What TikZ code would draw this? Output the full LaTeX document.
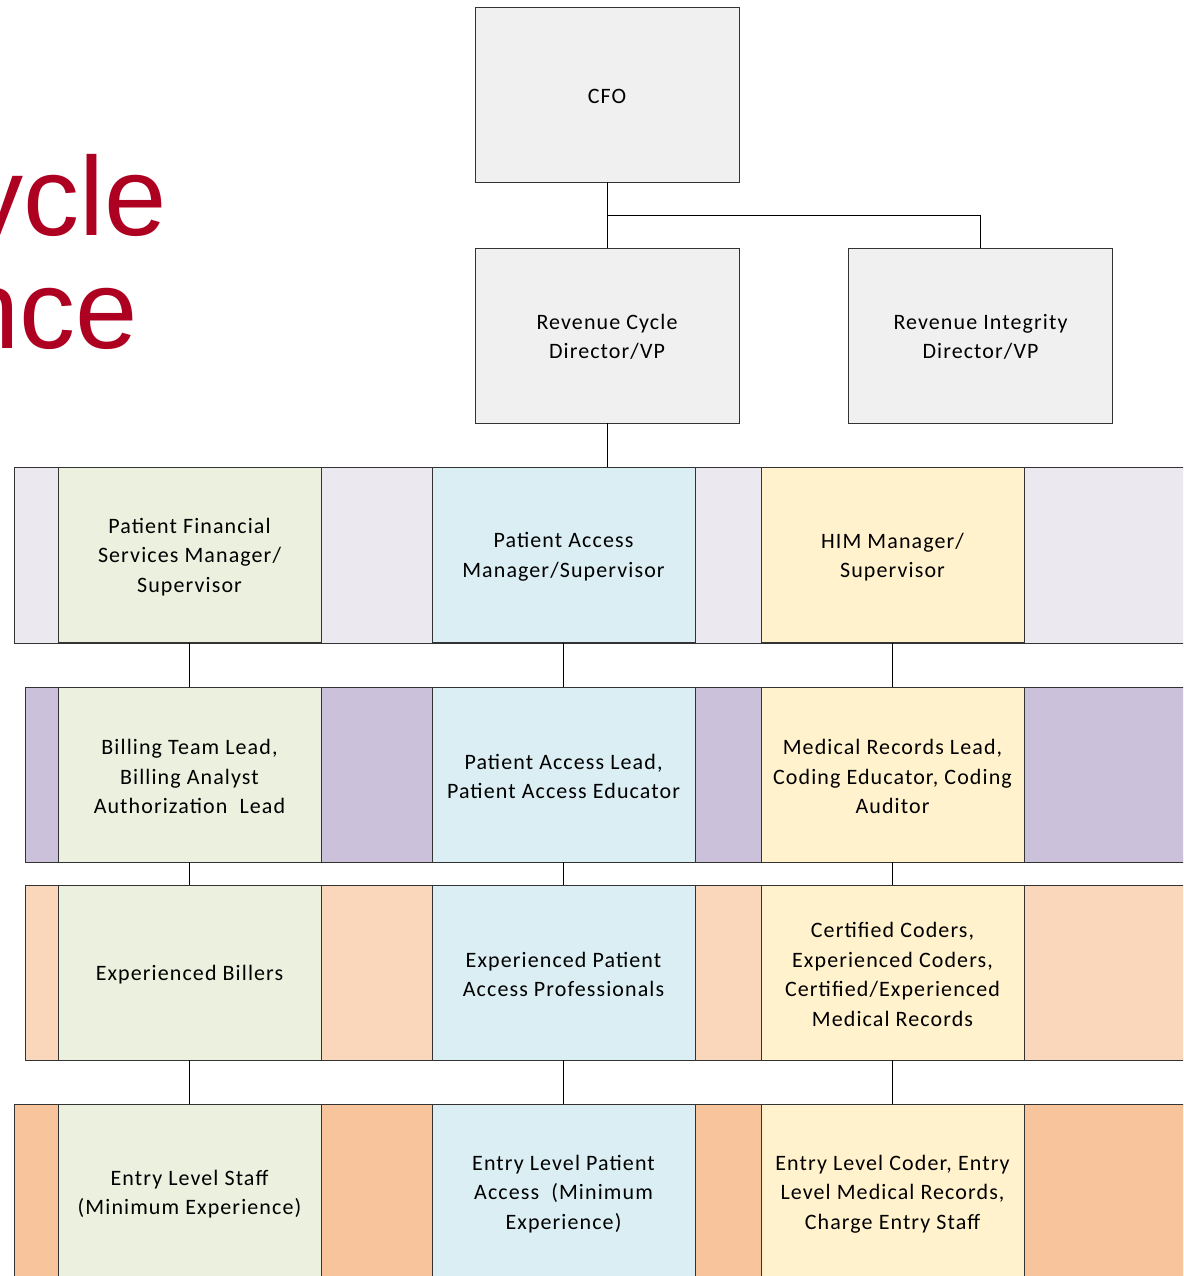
\documentclass[tikz,border=0pt]{standalone}
\usepackage{fontspec}
\setmainfont[LetterSpace=5]{Carlito}
\newfontfamily\titlefont{Liberation Sans}
\begin{document}
\begin{tikzpicture}[x=1pt,y=-1pt,
  box/.style={draw=black!80,line width=0.8pt,rectangle,inner sep=0,outer sep=0,
    minimum width=263pt,minimum height=175pt,align=center,text=black,
    font=\fontsize{22}{29.5}\selectfont},
  topbox/.style={box,fill=topgray,minimum width=264pt},
  gbox/.style={box,fill=boxgreen},
  bbox/.style={box,fill=boxblue},
  ybox/.style={box,fill=boxyellow},
  lbl/.style={align=center,font=\fontsize{22}{29.5}\selectfont,text=black},
  band/.style={draw=black!80,line width=0.8pt},
  conn/.style={draw=black,line width=1pt}]
\definecolor{topgray}{HTML}{F0F0F0}
\definecolor{boxgreen}{HTML}{EBF1DE}
\definecolor{boxblue}{HTML}{DAEEF3}
\definecolor{boxyellow}{HTML}{FFF2CC}
\definecolor{bandA}{HTML}{EBE8F0}
\definecolor{bandB}{HTML}{CCC1DA}
\definecolor{bandC}{HTML}{FAD7BB}
\definecolor{bandD}{HTML}{F8C49B}
\definecolor{titlered}{HTML}{AE0020}
\useasboundingbox (0,0) rectangle (1183,1276);
\clip (0,0) rectangle (1183,1276);
\fill[white] (0,0) rectangle (1183,1276);
% title fragments
\node[anchor=base east,inner sep=0,text=titlered,font=\titlefont\fontsize{112}{112}\selectfont] (t1) at (167,235) {ycle};
\node[anchor=base east,inner sep=0,text=titlered,font=\titlefont\fontsize{112}{112}\selectfont] (t2) at (138,348) {nce};
% top boxes
\node[topbox] (cfo) at (607,94.5) {};
\node[lbl] (cfot) at (607,96) {CFO};
\node[topbox] (rc) at (607,335.5) {};
\node[lbl] (rct) at (607,337) {Revenue Cycle\\Director/VP};
\node[topbox] (ri) at (980.5,335.5) {};
\node[lbl] (rit) at (980.5,337) {Revenue Integrity\\Director/VP};
% bands
\draw[band,fill=bandA] (14,467) rectangle (1200,643);
\draw[band,fill=bandB] (25,687) rectangle (1200,862);
\draw[band,fill=bandC] (25,885) rectangle (1200,1060);
\draw[band,fill=bandD] (14,1104) rectangle (1200,1300);
% row 1
\node[gbox] (a1) at (189.5,555) {};
\node[lbl] (a1t) at (189.5,557) {Patient Financial\\Services Manager/\\Supervisor};
\node[bbox] (a2) at (563.5,555) {};
\node[lbl] (a2t) at (563.5,557) {Patient Access\\Manager/Supervisor};
\node[ybox] (a3) at (892.5,555) {};
\node[lbl] (a3t) at (892.5,557) {HIM Manager/\\Supervisor};
% row 2
\node[gbox] (b1) at (189.5,774.5) {};
\node[lbl] (b1t) at (189.5,776.5) {Billing Team Lead,\\Billing Analyst\\Authorization\ \ Lead};
\node[bbox] (b2) at (563.5,774.5) {};
\node[lbl] (b2t) at (563.5,776.5) {Patient Access Lead,\\Patient Access Educator};
\node[ybox] (b3) at (892.5,774.5) {};
\node[lbl] (b3t) at (892.5,776.5) {Medical Records Lead,\\Coding Educator, Coding\\Auditor};
% row 3
\node[gbox] (c1) at (189.5,972.5) {};
\node[lbl] (c1t) at (189.5,974.5) {Experienced Billers};
\node[bbox] (c2) at (563.5,972.5) {};
\node[lbl] (c2t) at (563.5,974.5) {Experienced Patient\\Access Professionals};
\node[ybox] (c3) at (892.5,972.5) {};
\node[lbl] (c3t) at (892.5,974.5) {Certified Coders,\\Experienced Coders,\\Certified/Experienced\\Medical Records};
% row 4
\node[gbox,minimum height=196pt] (d1) at (189.5,1202) {};
\node[bbox,minimum height=196pt] (d2) at (563.5,1202) {};
\node[ybox,minimum height=196pt] (d3) at (892.5,1202) {};
\node[lbl] (d1t) at (189.5,1194) {Entry Level Staff\\(Minimum Experience)};
\node[lbl] (d2t) at (563.5,1194) {Entry Level Patient\\Access\ \ (Minimum\\Experience)};
\node[lbl] (d3t) at (892.5,1194) {Entry Level Coder, Entry\\Level Medical Records,\\Charge Entry Staff};
% connectors
\coordinate (j) at (607,215);
\draw[conn] (cfo.south) -- (rc.north);
\draw[conn] (j) -| (ri.north);
\draw[conn] (rc.south) -- (607,467);
\foreach \u/\v in {a1/b1,a2/b2,a3/b3,b1/c1,b2/c2,b3/c3,c1/d1,c2/d2,c3/d3}{
  \draw[conn] (\u.south) -- (\v.north);
}
\end{tikzpicture}
\end{document}
